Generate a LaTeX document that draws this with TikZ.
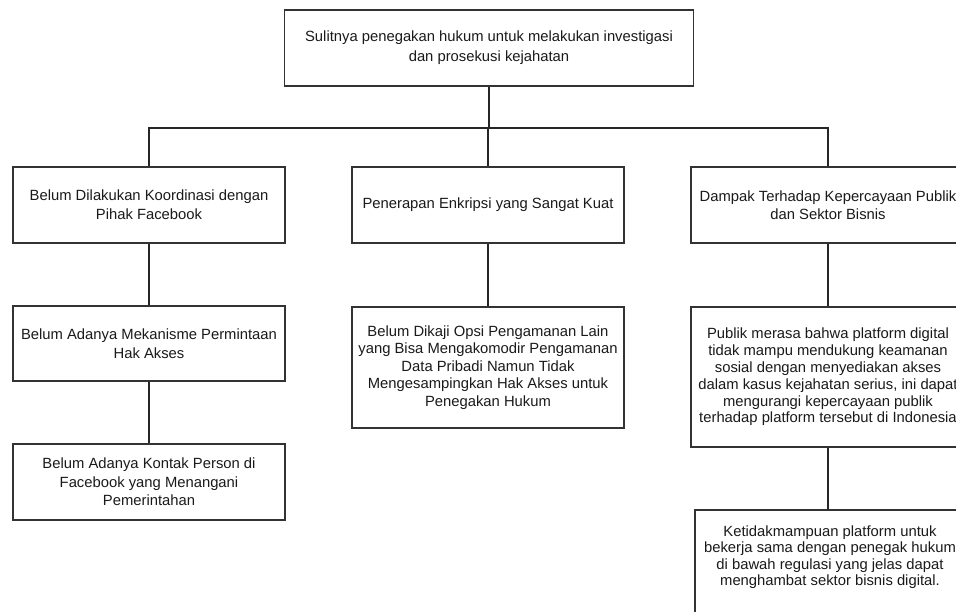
\documentclass[tikz,border=0pt]{standalone}
\usepackage{fontspec}
\setmainfont{Liberation Sans}
\definecolor{boxline}{HTML}{333333}
\definecolor{txt}{HTML}{1A1A1A}
\begin{document}
\begin{tikzpicture}[x=1pt,y=-1pt,
  box/.style={draw=boxline,line width=1.2pt,fill=white,inner sep=0pt,align=center,text=txt,
    font=\fontsize{14.8}{18}\selectfont},
  conn/.style={draw=black!85,line width=1.1pt}]
\useasboundingbox (0,0) rectangle (956,611);
\clip (0,0) rectangle (956,611);
\fill[white] (0,0) rectangle (956,611);

% top
\node[box,minimum width=409pt,minimum height=76pt,font=\fontsize{14.8}{20}\selectfont] (top) at (489,48)
  {Sulitnya penegakan hukum untuk melakukan investigasi\\dan prosekusi kejahatan};

% left column
\node[box,minimum width=272pt,minimum height=76pt,font=\fontsize{14.8}{19.3}\selectfont] (l1) at (149,205)
  {Belum Dilakukan Koordinasi dengan\\Pihak Facebook};
\node[box,minimum width=272pt,minimum height=75pt,font=\fontsize{14.8}{19.3}\selectfont] (l2) at (149,343.5)
  {Belum Adanya Mekanisme Permintaan\\Hak Akses};
\node[box,minimum width=272pt,minimum height=76pt,font=\fontsize{14.8}{18.3}\selectfont] (l3) at (149,482)
  {Belum Adanya Kontak Person di\\Facebook yang Menangani\\Pemerintahan};

% middle column
\node[box,minimum width=272pt,minimum height=76pt] (m1) at (488,205)
  {Penerapan Enkripsi yang Sangat Kuat};
\node[box,minimum width=272pt,minimum height=121pt,font=\fontsize{14.8}{17.5}\selectfont] (m2) at (488,367.5)
  {Belum Dikaji Opsi Pengamanan Lain\\yang Bisa Mengakomodir Pengamanan\\Data Pribadi Namun Tidak\\Mengesampingkan Hak Akses untuk\\Penegakan Hukum};

% right column
\node[box,minimum width=274pt,minimum height=76pt,font=\fontsize{14.8}{17.6}\selectfont] (r1) at (828,205)
  {Dampak Terhadap Kepercayaan Publik\\dan Sektor Bisnis};
\node[box,minimum width=274pt,minimum height=140pt,font=\fontsize{14.8}{16.8}\selectfont] (r2) at (828,377)
  {Publik merasa bahwa platform digital\\tidak mampu mendukung keamanan\\sosial dengan menyediakan akses\\dalam kasus kejahatan serius, ini dapat\\mengurangi kepercayaan publik\\terhadap platform tersebut di Indonesia};
\node[box,minimum width=272pt,minimum height=130pt] (r3) at (831,575) {};
\node[align=center,text=txt,inner sep=0pt,font=\fontsize{14.8}{16.4}\selectfont] (r3t) at (830,557)
  {Ketidakmampuan platform untuk\\bekerja sama dengan penegak hukum\\di bawah regulasi yang jelas dapat\\menghambat sektor bisnis digital.};

% connectors
\coordinate (hub) at (489,128);
\draw[conn] (top.south) -- (hub);
\draw[conn] (l1.north) |- (hub) -| (r1.north);
\draw[conn] (hub -| m1.north) -- (m1.north);
\draw[conn] (l1.south) -- (l2.north);
\draw[conn] (l2.south) -- (l3.north);
\draw[conn] (m1.south) -- (m2.north);
\draw[conn] (r1.south) -- (r2.north);
\draw[conn] (r2.south) -- (r2.south |- r3.north);
\end{tikzpicture}
\end{document}
